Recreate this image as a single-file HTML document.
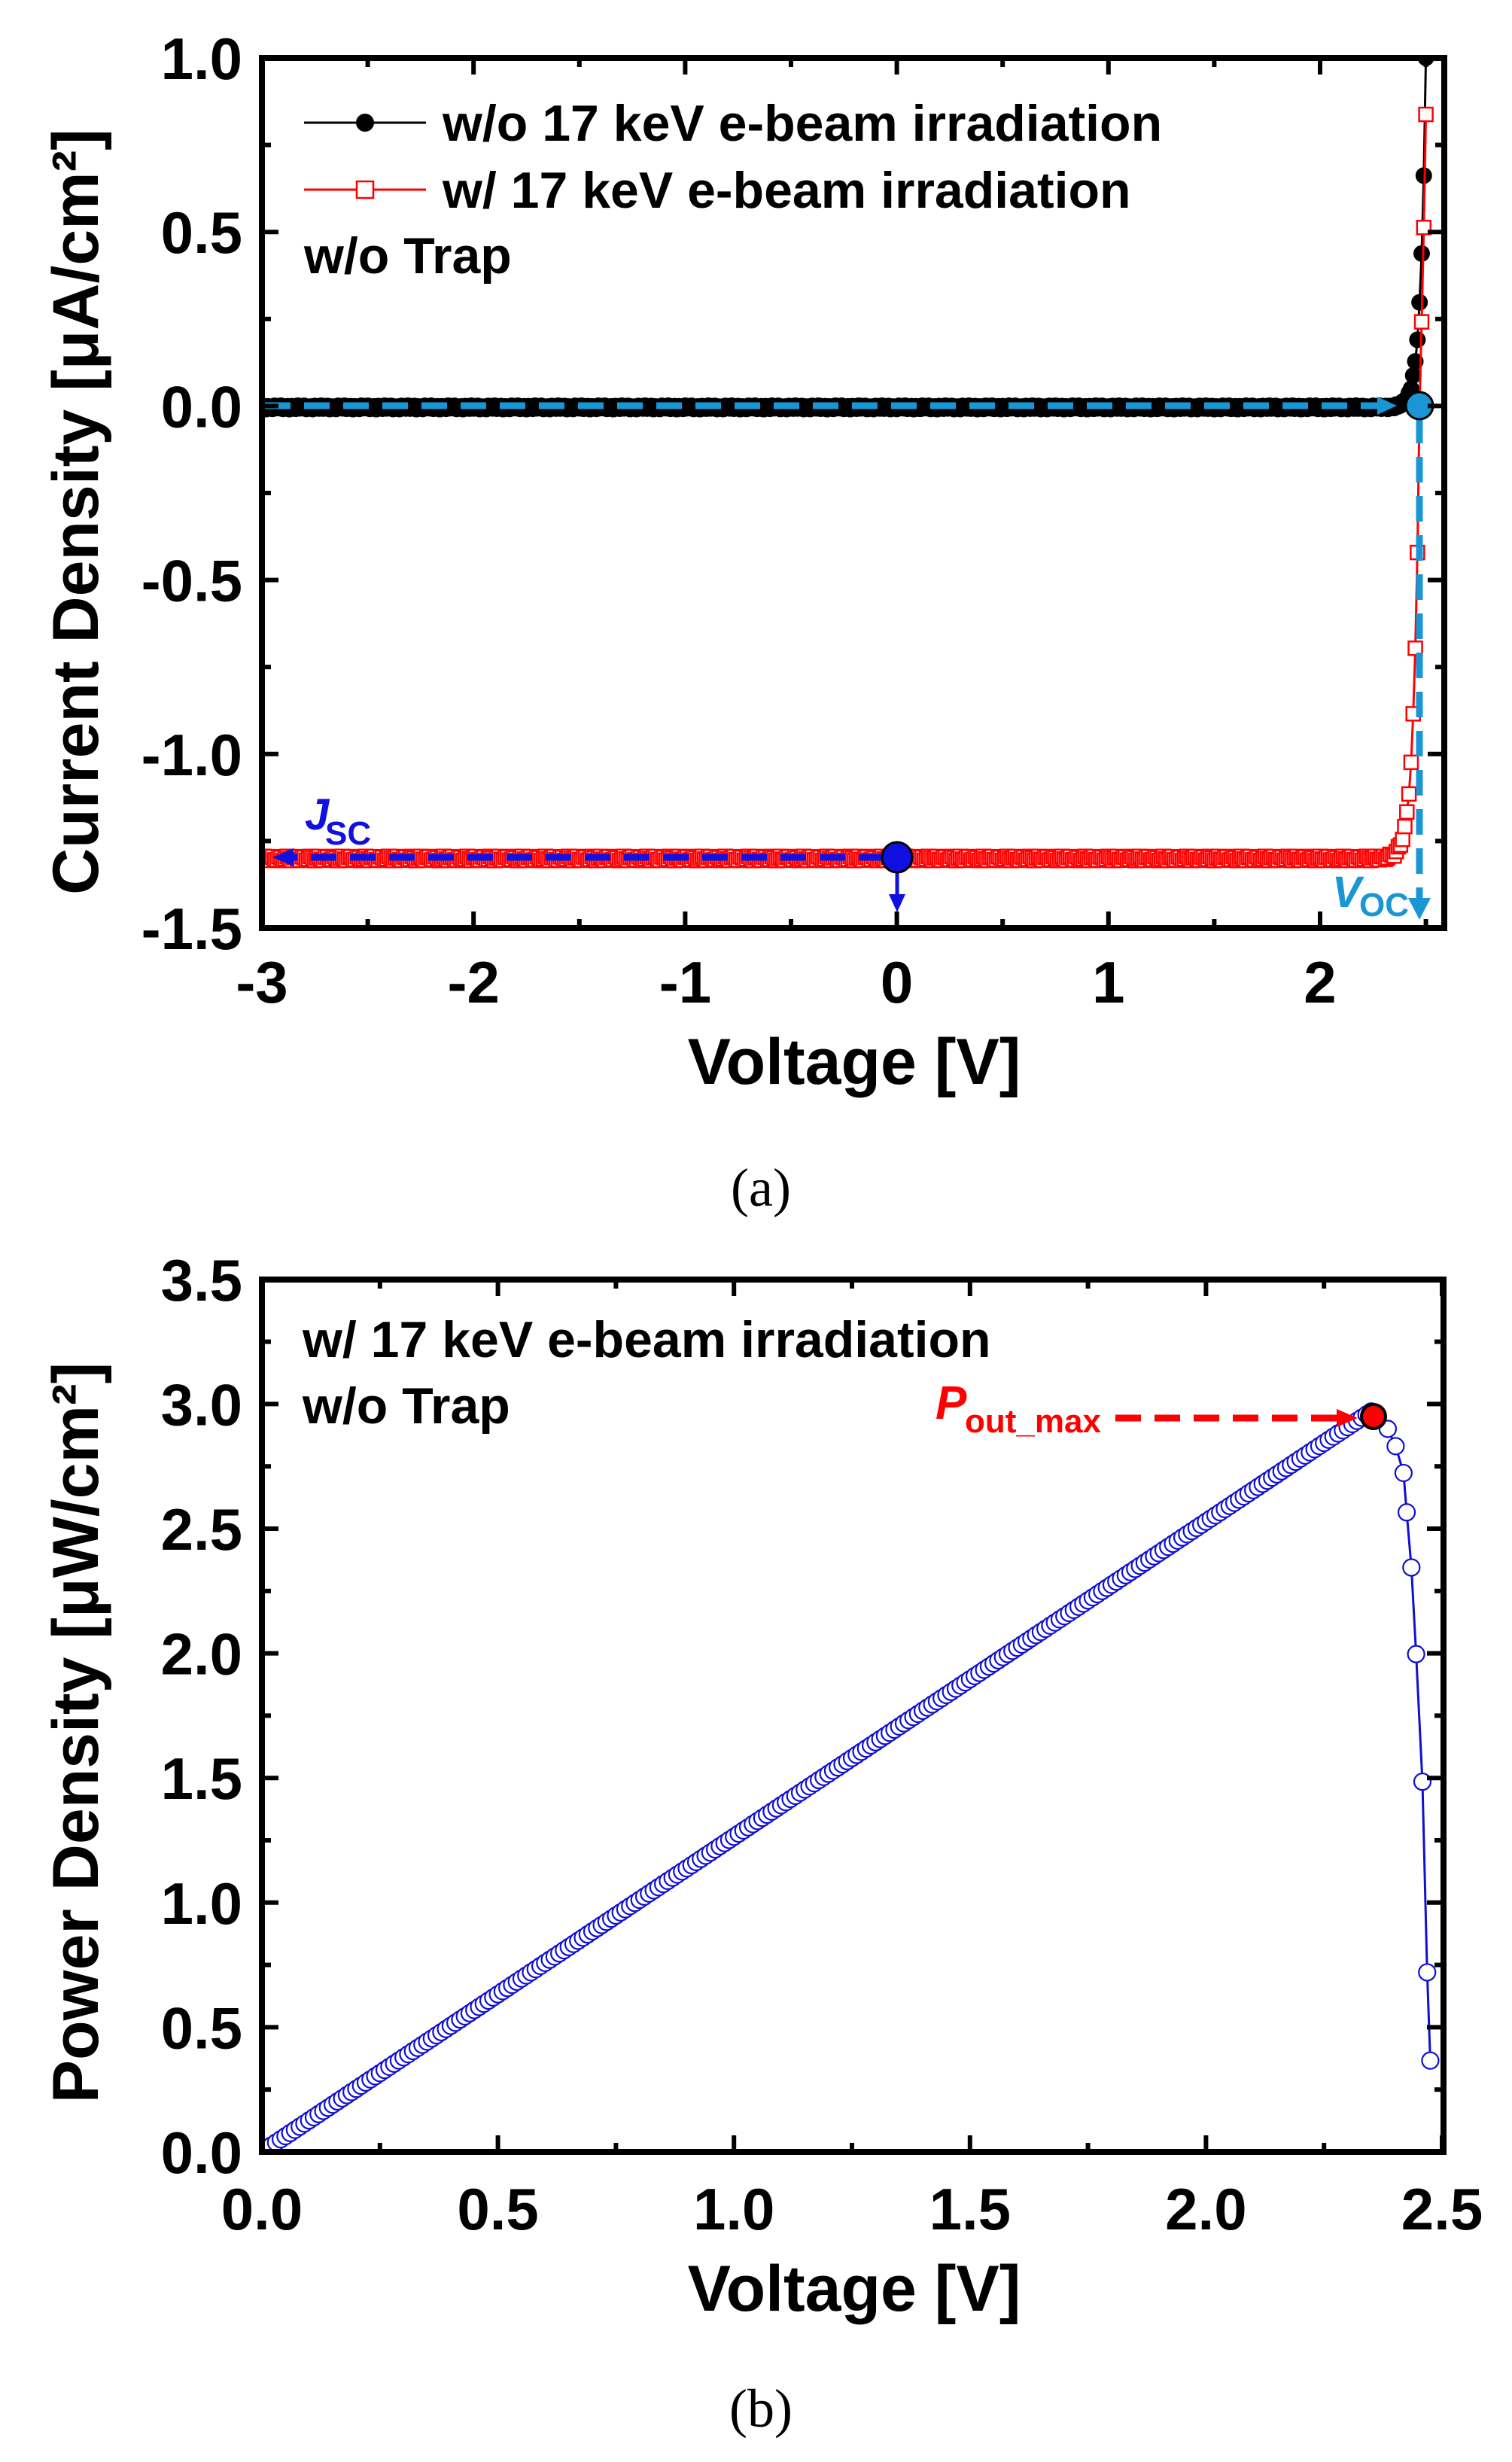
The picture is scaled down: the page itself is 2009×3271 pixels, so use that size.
<!DOCTYPE html>
<html><head><meta charset="utf-8"><style>
html,body{margin:0;padding:0;background:#fff}
svg{display:block}
text{font-family:"Liberation Sans",Arial,sans-serif;font-weight:bold}
</style></head><body>
<svg id="s" width="2009" height="3271" viewBox="0 0 2009 3271" xmlns="http://www.w3.org/2000/svg">
<defs>
<clipPath id="ca"><rect x="348" y="77" width="1571" height="1156"/></clipPath>
<clipPath id="cb"><rect x="348" y="1700" width="1570" height="1159"/></clipPath>
</defs>
<g id="ga" clip-path="url(#ca)"></g>
<g id="gb" clip-path="url(#cb)"></g>
<g id="ov"></g>
</svg>
<script>
const NS="http://www.w3.org/2000/svg";
function el(p,t,a,txt){const e=document.createElementNS(NS,t);for(const k in a)e.setAttribute(k,a[k]);if(txt!==undefined)e.textContent=txt;p.appendChild(e);return e;}
const ov=document.getElementById('ov'),ga=document.getElementById('ga'),gb=document.getElementById('gb');
const ax=v=>348+(v+3)*281.2, ay=j=>77+(1-j)*462.4;
function jr(v){ if(v<2.47) return -1.3+1.3*Math.exp((v-2.47)/0.026); return -1.3+1.3*Math.exp((v-2.47)/0.06);}
let rp=[];for(let i=0;i<=550;i++){const v=-3+i*0.01;let j=jr(v)+0.006*Math.sin(i*1.7);rp.push([ax(v),ay(j)]);}
let bp=[];for(let i=0;i<=550;i++){const v=-3+i*0.01;let j=Math.exp((v-2.5)/0.0247)-0.004+0.005*Math.sin(i*2.3);bp.push([ax(v),ay(j)]);}
el(ga,'polyline',{points:bp.map(p=>p.join(',')).join(' '),fill:'none',stroke:'#000','stroke-width':3});
bp.forEach(p=>el(ga,'circle',{cx:p[0],cy:p[1],r:11,fill:'#000'}));
el(ga,'polyline',{points:rp.map(p=>p.join(',')).join(' '),fill:'none',stroke:'#f00','stroke-width':3});
rp.forEach(p=>el(ga,'rect',{x:p[0]-9,y:p[1]-9,width:18,height:18,fill:'#fff',stroke:'#f00','stroke-width':2.5}));
const cy='#1a96d4', db='#1010e0';
el(ov,'line',{x1:352,y1:539,x2:1835,y2:539,stroke:cy,'stroke-width':9,'stroke-dasharray':'34,18'});
el(ov,'polygon',{points:'1830,527 1856,539 1830,551',fill:cy});
el(ov,'line',{x1:1886,y1:555,x2:1886,y2:1195,stroke:cy,'stroke-width':9,'stroke-dasharray':'34,18'});
el(ov,'polygon',{points:'1871,1193 1901,1193 1886,1222',fill:cy});
el(ov,'circle',{cx:1886,cy:539,r:18,fill:cy,stroke:'#000','stroke-width':3});
el(ov,'text',{x:1770,y:1205,fill:cy,'font-size':58,'font-style':'italic','font-weight':'normal'},'V');
el(ov,'text',{x:1806,y:1217,fill:cy,'font-size':44,'font-weight':'normal'},'OC');
el(ov,'line',{x1:1175,y1:1139,x2:385,y2:1139,stroke:db,'stroke-width':9,'stroke-dasharray':'34,18'});
el(ov,'polygon',{points:'390,1127 362,1139 390,1151',fill:db});
el(ov,'line',{x1:1192,y1:1150,x2:1192,y2:1195,stroke:db,'stroke-width':5});
el(ov,'polygon',{points:'1181,1188 1203,1188 1192,1212',fill:db});
el(ov,'circle',{cx:1192,cy:1139,r:20,fill:db,stroke:'#000','stroke-width':3});
el(ov,'text',{x:405,y:1102,fill:db,'font-size':58,'font-style':'italic','font-weight':'normal'},'J');
el(ov,'text',{x:432,y:1122,fill:db,'font-size':44,'font-weight':'normal'},'SC');
el(ov,'line',{x1:404,y1:163,x2:566,y2:163,stroke:'#000','stroke-width':3});
el(ov,'circle',{cx:485,cy:163,r:12,fill:'#000'});
el(ov,'text',{x:588,y:187,'font-size':68},'w/o 17 keV e-beam irradiation');
el(ov,'line',{x1:404,y1:252,x2:566,y2:252,stroke:'#f00','stroke-width':3});
el(ov,'rect',{x:474,y:241,width:22,height:22,fill:'#fff',stroke:'#f00','stroke-width':2.5});
el(ov,'text',{x:588,y:276,'font-size':68},'w/ 17 keV e-beam irradiation');
el(ov,'text',{x:404,y:363,'font-size':68},'w/o Trap');
el(ov,'rect',{x:348,y:77,width:1571,height:1156,fill:'none',stroke:'#000','stroke-width':8});
for(let v=-3;v<=2.6;v+=0.5){const x=ax(v),maj=Math.abs(v-Math.round(v))<1e-6,L=maj?22:12;
 el(ov,'line',{x1:x,y1:1233,x2:x,y2:1233-L,stroke:'#000','stroke-width':6});
 el(ov,'line',{x1:x,y1:77,x2:x,y2:77+L,stroke:'#000','stroke-width':6});
 if(maj)el(ov,'text',{x:x,y:1332,'font-size':78,'text-anchor':'middle'},String(Math.round(v)));}
for(let k=0;k<=10;k++){const j=1-k*0.25,y=ay(j),maj=k%2==0,L=maj?22:12;
 el(ov,'line',{x1:348,y1:y,x2:348+L,y2:y,stroke:'#000','stroke-width':6});
 el(ov,'line',{x1:1919,y1:y,x2:1919-L,y2:y,stroke:'#000','stroke-width':6});
 if(maj)el(ov,'text',{x:322,y:y+28,'font-size':78,'text-anchor':'end'},j.toFixed(1));}
el(ov,'text',{x:1135,y:1440,'font-size':86,'text-anchor':'middle'},'Voltage [V]');
el(ov,'text',{transform:'translate(130,680) rotate(-90)','font-size':86,'text-anchor':'middle'},'Current Density [μA/cm²]');
el(ov,'text',{x:1011,y:1602,'font-size':72,'text-anchor':'middle','style':'font-family:"Liberation Serif",serif;font-weight:normal'},'(a)');
const bx=v=>348+v*627.2, by=p=>2859-p*331.2;
let pp=[];for(let i=0;i<=235;i++){const v=i*0.01;pp.push([bx(v),by(v*1.264)]);}
const tail=[[881,907],[886,918],[891,935],[893,960],[896,995],[899,1050],[903,1131],[906,1252],[908,1308]].map(p=>[p[0]*2.093,p[1]*2.093]);
pp=pp.concat(tail);
el(gb,'polyline',{points:pp.map(p=>p.join(',')).join(' '),fill:'none',stroke:'#1010d0','stroke-width':3});
pp.forEach(p=>el(gb,'circle',{cx:p[0],cy:p[1],r:11,fill:'#fff',stroke:'#1010d0','stroke-width':2.2}));
el(ov,'circle',{cx:1825,cy:1882,r:16,fill:'#f00',stroke:'#000','stroke-width':4});
el(ov,'line',{x1:1482,y1:1884,x2:1780,y2:1884,stroke:'#f00','stroke-width':9,'stroke-dasharray':'34,18'});
el(ov,'polygon',{points:'1776,1872 1804,1884 1776,1896',fill:'#f00'});
el(ov,'text',{x:1243,y:1885,fill:'#f00','font-size':62,'font-style':'italic'},'P');
el(ov,'text',{x:1282,y:1903,fill:'#f00','font-size':44},'out_max');
el(ov,'text',{x:402,y:1803,'font-size':68},'w/ 17 keV e-beam irradiation');
el(ov,'text',{x:402,y:1891,'font-size':68},'w/o Trap');
el(ov,'rect',{x:348,y:1700,width:1570,height:1159,fill:'none',stroke:'#000','stroke-width':8});
for(let k=0;k<=10;k++){const v=k*0.25,x=bx(v),maj=k%2==0,L=maj?22:12;
 el(ov,'line',{x1:x,y1:2859,x2:x,y2:2859-L,stroke:'#000','stroke-width':6});
 el(ov,'line',{x1:x,y1:1700,x2:x,y2:1700+L,stroke:'#000','stroke-width':6});
 if(maj)el(ov,'text',{x:x,y:2962,'font-size':78,'text-anchor':'middle'},v.toFixed(1));}
for(let k=0;k<=14;k++){const p=k*0.25,y=by(p),maj=k%2==0,L=maj?22:12;
 el(ov,'line',{x1:348,y1:y,x2:348+L,y2:y,stroke:'#000','stroke-width':6});
 el(ov,'line',{x1:1918,y1:y,x2:1918-L,y2:y,stroke:'#000','stroke-width':6});
 if(maj)el(ov,'text',{x:322,y:y+28,'font-size':78,'text-anchor':'end'},p.toFixed(1));}
el(ov,'text',{x:1135,y:3070,'font-size':86,'text-anchor':'middle'},'Voltage [V]');
el(ov,'text',{transform:'translate(130,2302) rotate(-90)','font-size':86,'text-anchor':'middle'},'Power Density [μW/cm²]');
el(ov,'text',{x:1011,y:3224,'font-size':72,'text-anchor':'middle','style':'font-family:"Liberation Serif",serif;font-weight:normal'},'(b)');
</script>
</body></html>
